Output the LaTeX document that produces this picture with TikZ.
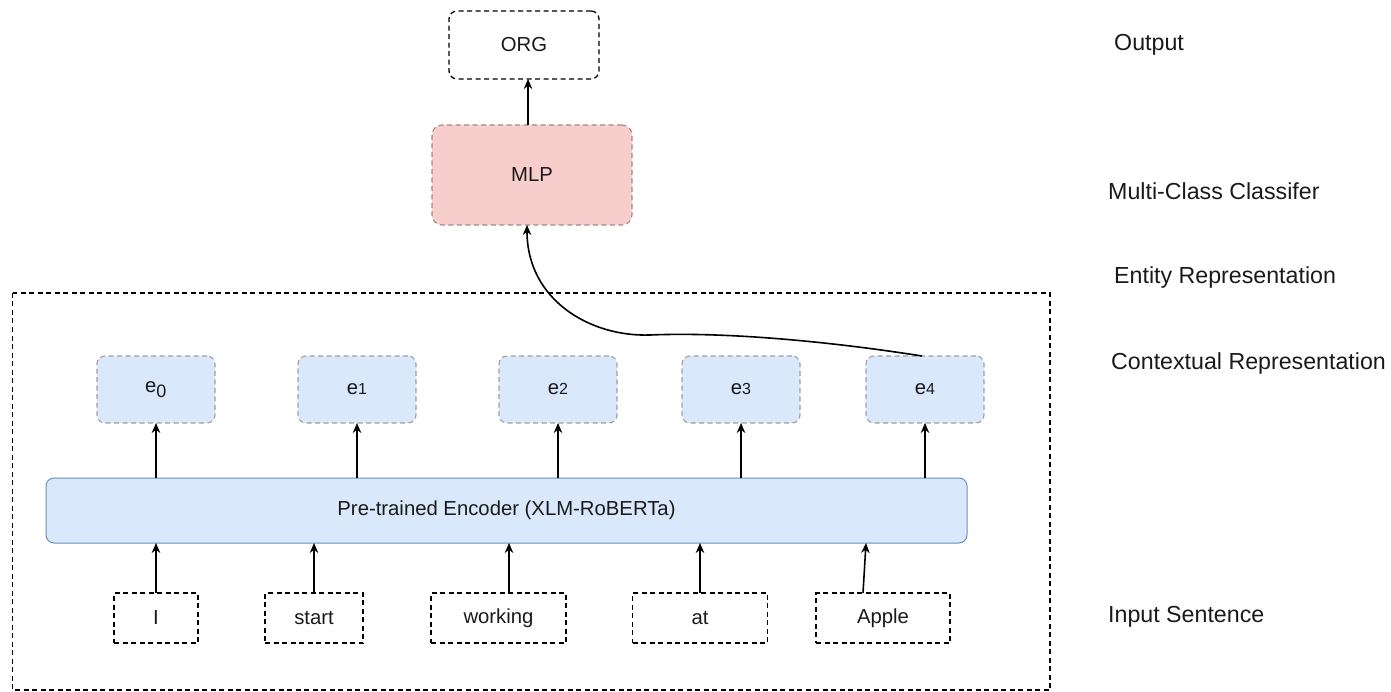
\documentclass[tikz,border=0pt]{standalone}
\usepackage{fontspec}
\setmainfont{Liberation Sans}
\usetikzlibrary{arrows.meta,calc}
\definecolor{bluefill}{HTML}{DAE8FC}
\definecolor{blueline}{HTML}{6C8EBF}
\definecolor{pinkfill}{HTML}{F8CECC}
\definecolor{pinkline}{HTML}{A08888}
\definecolor{txt}{HTML}{1A1A1A}
\tikzset{
  boxtext/.style={font=\fontsize{20.3}{24}\selectfont, text=txt},
  blackdash/.style={draw=black, line width=1.3pt, dash pattern=on 5pt off 3.5pt, fill=white, inner sep=0pt, outer sep=0pt, boxtext},
  wordbox/.style={blackdash, minimum height=50pt},
  orgbox/.style={blackdash, rounded corners=8pt, minimum width=150pt, minimum height=68pt},
  mlpbox/.style={draw=pinkline, line width=1.1pt, dash pattern=on 5pt off 3.5pt, fill=pinkfill, rounded corners=10pt, minimum width=200pt, minimum height=100pt, inner sep=0pt, outer sep=0pt, boxtext},
  ebox/.style={draw=gray!75, line width=1.1pt, dash pattern=on 5pt off 3.5pt, fill=bluefill, rounded corners=8pt, minimum width=118pt, minimum height=67pt, inner sep=0pt, outer sep=0pt, boxtext},
  encbox/.style={draw=blueline, line width=1pt, fill=bluefill, rounded corners=8pt, minimum width=921pt, minimum height=65pt, inner sep=0pt, outer sep=0pt, boxtext},
  arr/.style={draw=black, line width=1.6pt, -{Stealth[length=10pt,width=8.5pt]}},
  sidelabel/.style={anchor=west, inner sep=0pt, font=\fontsize{23.2}{27}\selectfont, text=txt},
  frame/.style={draw=black, line width=1.3pt, dash pattern=on 5pt off 3.5pt}
}
\newcommand{\dg}[1]{{\fontsize{16}{16}\selectfont #1}}
\begin{document}
\begin{tikzpicture}[x=1pt,y=-1pt]
\useasboundingbox (0,0) rectangle (1391,692);
% outer frame
\draw[frame] (12.5,293) rectangle (1050,690);
% top
\node[orgbox] (org) at (524,45) {ORG};
\node[mlpbox] (mlp) at (532,175) {MLP};
% contextual representations
\node[ebox] (e0) at (156,389.5) {e\textsubscript{\fontsize{18}{18}\selectfont 0}};
\node[ebox] (e1) at (357,389.5) {e\dg{1}};
\node[ebox] (e2) at (558,389.5) {e\dg{2}};
\node[ebox] (e3) at (741,389.5) {e\dg{3}};
\node[ebox] (e4) at (925,389.5) {e\dg{4}};
% encoder
\node[encbox] (enc) at (506.5,510.5) {Pre-trained Encoder (XLM-RoBERTa)};
% words
\node[wordbox, minimum width=84pt] (w0) at (156,618) {I};
\node[wordbox, minimum width=98pt] (w1) at (314,618) {start};
\node[wordbox, minimum width=135pt] (w2) at (498.5,618) {working};
\node[wordbox, minimum width=135pt] (w3) at (700,618) {at};
\node[wordbox, minimum width=134pt] (w4) at (883,618) {Apple};
% arrows words -> encoder
\draw[arr] (w0.north) -- (w0.north |- enc.south);
\draw[arr] (w1.north) -- (w1.north |- enc.south);
\draw[arr] ([xshift=10.5pt]w2.north) -- ([xshift=10.5pt]w2.north |- enc.south);
\draw[arr] (w3.north) -- (w3.north |- enc.south);
\draw[arr] ([xshift=-20pt]w4.north) -- ([xshift=-17pt]w4.north |- enc.south);
% arrows encoder -> e
\foreach \i in {0,...,4}{
  \draw[arr] (e\i.south |- enc.north) -- (e\i.south);
}
% e4 -> MLP curve
\draw[arr] ([xshift=-3pt]e4.north) .. controls (820,340) and (720,332) .. (650,335)
  .. controls (590,337) and (527,300) .. ([xshift=-5pt]mlp.south);
% MLP -> ORG
\draw[arr] ([xshift=-4pt]mlp.north) -- ([xshift=4pt]org.south);
% side labels
\node[sidelabel] (lout) at (1114,45) {Output};
\node[sidelabel] (lmlp) at (1108,191) {Multi-Class Classifer};
\node[sidelabel] (lent) at (1114,278) {Entity Representation};
\node[sidelabel] (lctx) at (1111,364) {Contextual Representation};
\node[sidelabel] (lin) at (1108,617) {Input Sentence};
\end{tikzpicture}
\end{document}
